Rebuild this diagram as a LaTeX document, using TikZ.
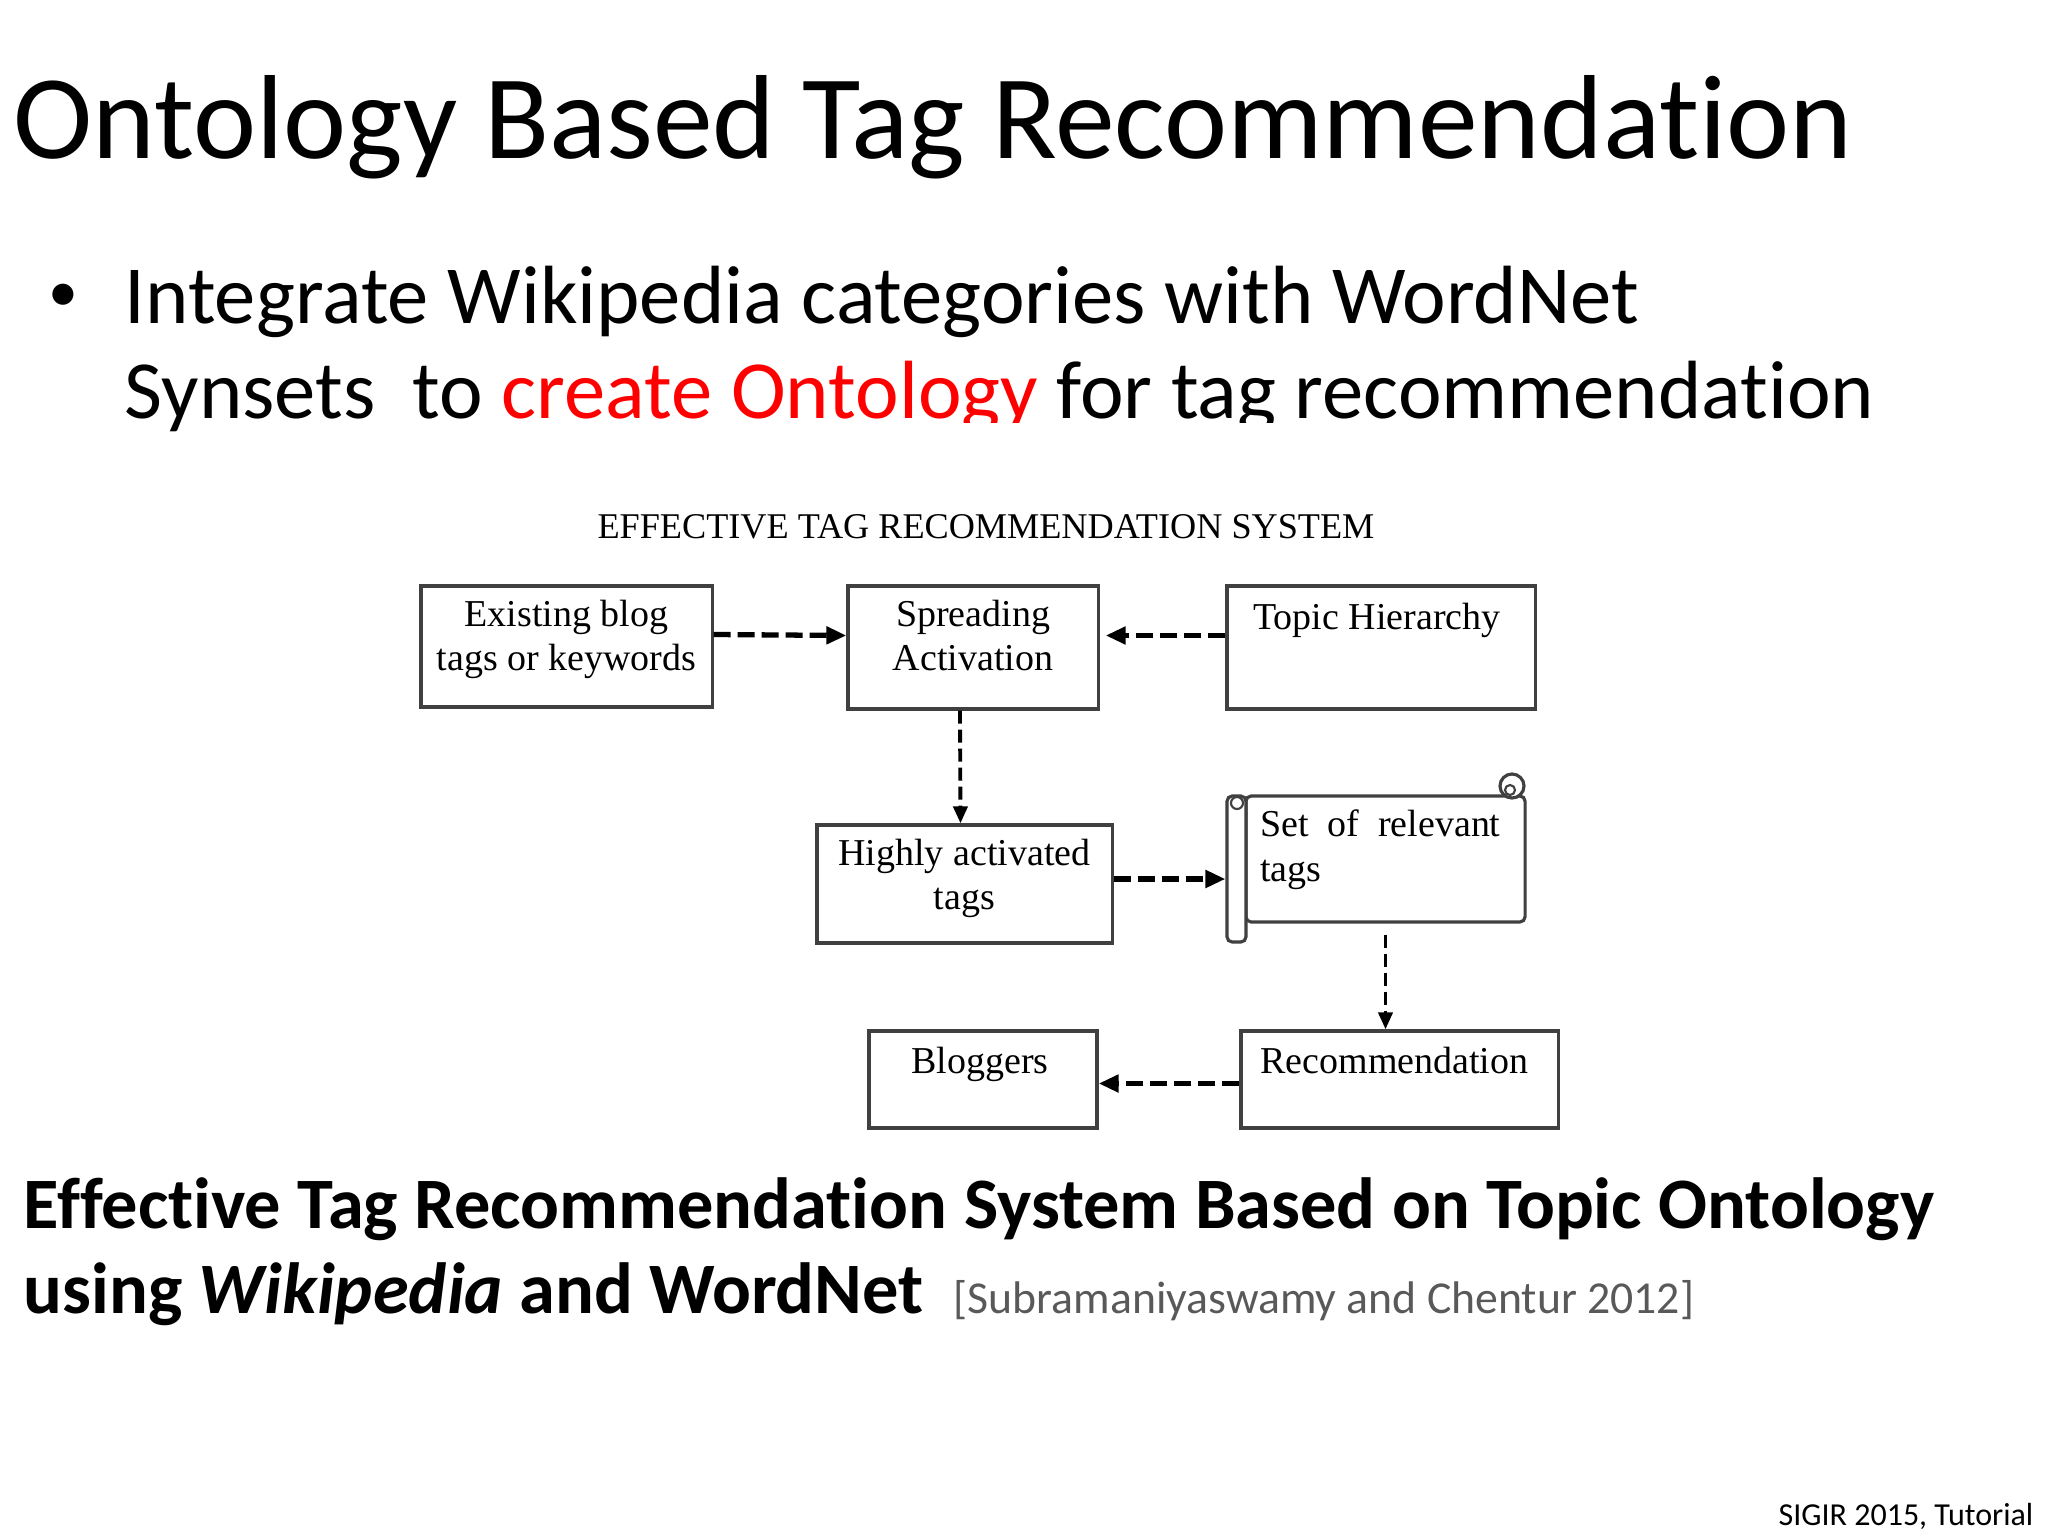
\documentclass[tikz,border=0pt]{standalone}
\usepackage{fontspec}
\setmainfont{Carlito}[Ligatures=NoCommon]
\newfontfamily\diagfont{Liberation Serif}
\usepackage{xcolor}
\usetikzlibrary{positioning, arrows.meta}

\definecolor{rouge}{RGB}{255,0,0}
\definecolor{gris}{RGB}{89,89,89}

\begin{document}
\begin{tikzpicture}[x=0.01cm, y=-0.01cm,
        boite/.style={draw=black!75, line width=0.9pt, fill=white, inner sep=0pt},
        texte/.style={font=\diagfont\fontsize{10.8}{12.6}\selectfont, align=center, inner sep=0pt},
        fleche/.style={-{Triangle[length=0.2cm, width=0.17cm]}, line width=1.5pt, dash pattern=on 0.17cm off 0.07cm},
        flechev/.style={-{Triangle[length=0.17cm, width=0.14cm]}, line width=1.1pt, dash pattern=on 0.13cm off 0.06cm}]
        \useasboundingbox (0,0) rectangle (2048,1536);

        % Titre et texte
        \node[anchor=base west, inner sep=0pt, font=\fontsize{34}{40}\selectfont] (titre) at (13,158) {Ontology Based Tag Recommendation};
        \node[inner sep=0pt, font=\fontsize{17}{20}\selectfont] (puce) at (63,298) {•};
        \node[anchor=base west, inner sep=0pt, font=\fontsize{23.5}{28}\selectfont] (ligne1) at (124,323) {Integrate Wikipedia categories with WordNet};
        \node[anchor=base west, inner sep=0pt, font=\fontsize{23.5}{28}\selectfont] (ligne2) at (124,418) {Synsets\ \ to \textcolor{rouge}{create Ontology} for tag recommendation};
        \fill[white] (418,423) rectangle (2048,1130);
        \node[anchor=base, inner sep=0pt, font=\diagfont\fontsize{10.3}{12}\selectfont] (entete) at (986,538) {EFFECTIVE TAG RECOMMENDATION SYSTEM};

        % Nœuds
        \node[boite, minimum width=2.91cm, minimum height=1.21cm] (exist) at (566.5,646.5) {};
        \node[boite, minimum width=2.50cm, minimum height=1.23cm] (spread) at (973,647.5) {};
        \node[boite, minimum width=3.08cm, minimum height=1.23cm] (topic) at (1381,647.5) {};
        \node[boite, minimum width=2.95cm, minimum height=1.18cm] (high) at (964.5,884) {};
        \node[boite, minimum width=2.79cm, minimum height=1.26cm, rounded corners=1.5pt] (set) at (1385.5,859) {};
        \draw[boite] (1512,786) circle[radius=0.12cm];
        \draw[black!75, line width=0.6pt] (1510,790) circle[radius=0.05cm];
        \node[boite, minimum width=0.19cm, minimum height=1.46cm, rounded corners=1.5pt] (roll) at (1236.5,869) {};
        \draw[black!75, line width=0.6pt] (1237,803) circle[radius=0.06cm];
        \node[boite, minimum width=3.17cm, minimum height=0.97cm] (rec) at (1399.5,1079.5) {};
        \node[boite, minimum width=2.28cm, minimum height=0.97cm] (blog) at (983,1079.5) {};

        \node[texte, below=0.15cm of exist.north] (exist-t) {Existing blog\\tags or keywords};
        \node[texte, below=0.15cm of spread.north] (spread-t) {Spreading\\Activation};
        \node[texte, below=0.18cm of topic.north, xshift=-0.04cm] (topic-t) {Topic Hierarchy};
        \node[texte, below=0.15cm of high.north] (high-t) {Highly activated\\tags};
        \node[texte, align=left, below right=0.15cm and 0.15cm of set.north west] (set-t) {Set\enspace of\enspace relevant\\tags};
        \node[texte, below=0.17cm of rec.north, xshift=-0.05cm] (rec-t) {Recommendation};
        \node[texte, below=0.17cm of blog.north, xshift=-0.03cm] (blog-t) {Bloggers};

        % Flèches
        \path
            ([yshift=0.12cm]exist.east) edge[fleche] ([yshift=0.12cm]spread.west)
            ([yshift=0.12cm]topic.west) edge[fleche, shorten >=0.06cm] ([yshift=0.12cm]spread.east)
            ([yshift=0.05cm]high.east) edge[fleche] ([yshift=0.05cm]high.east -| roll.west)
            ([yshift=-0.04cm]rec.west) edge[fleche] ([yshift=-0.04cm]blog.east)
            ([xshift=-0.13cm]spread.south) edge[flechev] ([xshift=-0.04cm]high.north)
            ([yshift=-0.11cm]set.south) edge[flechev] (set.south |- rec.north);

        % Pied de page
        \node[anchor=base west, inner sep=0pt, font=\bfseries\fontsize{20.6}{25}\selectfont] (legende1) at (23,1228) {Effective Tag Recommendation System Based on Topic Ontology};
        \node[anchor=base west, inner sep=0pt, font=\bfseries\fontsize{20.6}{25}\selectfont] (legende2) at (23,1313) {using \textit{Wikipedia} and WordNet};
        \node[anchor=base west, inner sep=0pt, text=gris, font=\fontsize{13}{16}\selectfont] (ref) at (953,1313) {[Subramaniyaswamy and Chentur 2012]};
        \node[anchor=base east, inner sep=0pt, font=\fontsize{9.1}{11}\selectfont] (pied) at (2034,1525) {SIGIR 2015, Tutorial};
\end{tikzpicture}
\end{document}
